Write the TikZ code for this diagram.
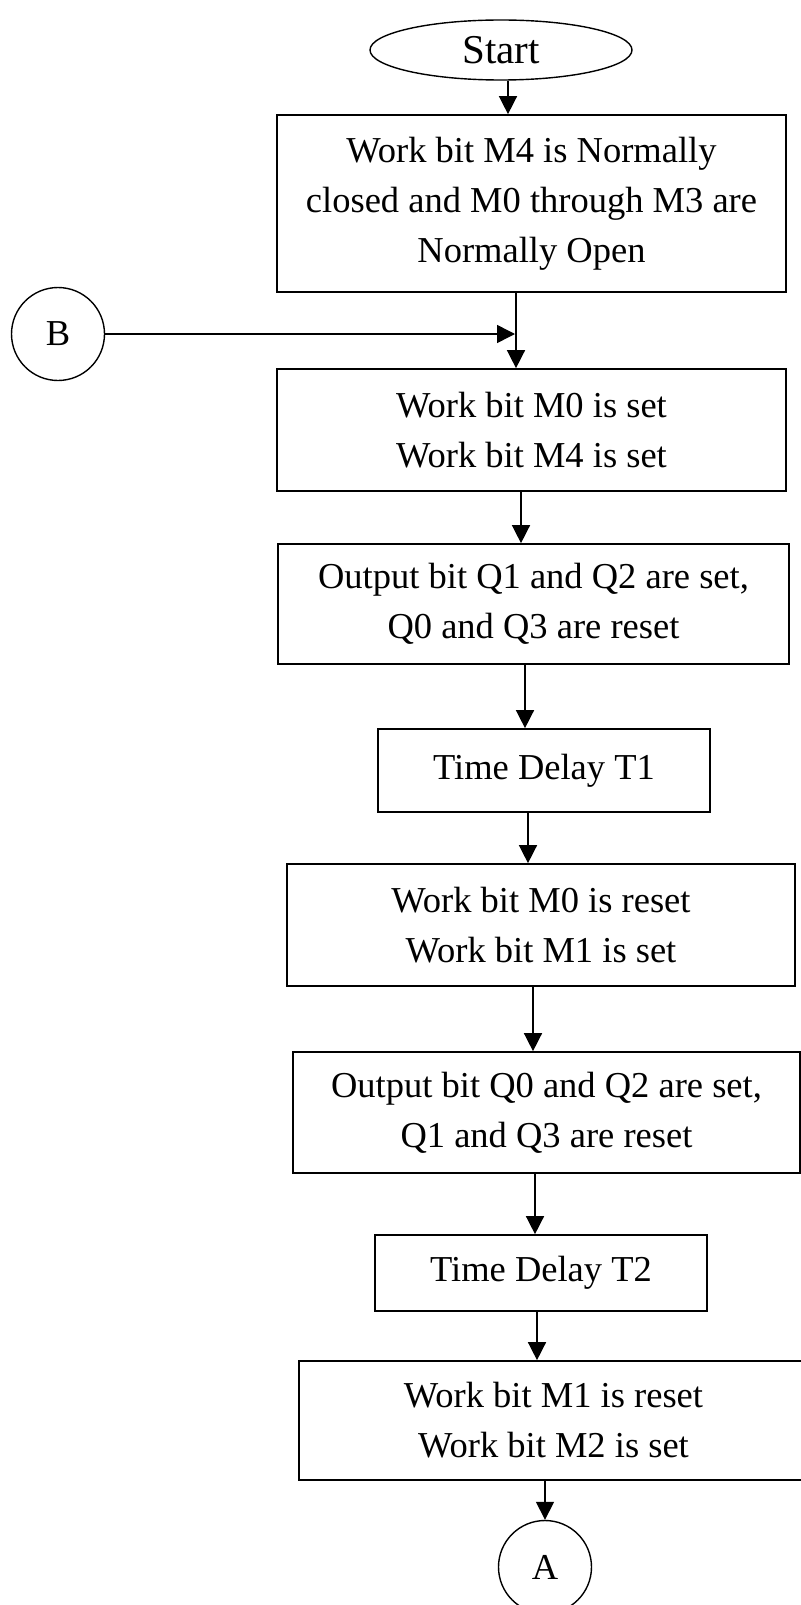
\documentclass[tikz,border=0pt]{standalone}
\usepackage{fontspec}
\setmainfont{Liberation Serif}
\usetikzlibrary{arrows.meta,shapes.geometric}
\begin{document}
\begin{tikzpicture}[x=1pt,y=-1pt,
  every node/.style={font=\fontsize{36.5}{50}\selectfont, align=center, inner sep=0pt},
  procbox/.style={draw, line width=1.7pt, rectangle},
  wide/.style={procbox, minimum width=509pt, minimum height=121pt},
  narrow/.style={procbox, minimum width=332pt, minimum height=82pt},
  conn/.style={draw, circle, line width=1.4pt, minimum size=93pt},
  arr/.style={line width=1.5pt, -{Triangle[length=18pt,width=18pt]}}]
\useasboundingbox (0,0) rectangle (800,1605);
\fill[white] (0,0) rectangle (800,1605);

\node[draw, ellipse, line width=1.4pt, minimum width=262pt, minimum height=60pt, font=\fontsize{41}{50}\selectfont] (start) at (501,50) {Start};
\node[procbox, minimum width=509pt, minimum height=177pt] (b1) at (531.5,203.5) {Work bit M4 is Normally\\closed and M0 through M3 are\\Normally Open};
\node[conn] (B) at (58,334) {B};
\node[wide, minimum height=122pt] (b2) at (531.5,430) {Work bit M0 is set\\Work bit M4 is set};
\node[wide, minimum height=120pt, minimum width=511pt] (b3) at (533.5,604) {Output bit Q1 and Q2 are set,\\Q0 and Q3 are reset};
\node[narrow, minimum height=83pt] (b4) at (544,770.5) {Time Delay T1};
\node[wide, minimum width=508pt, minimum height=122pt] (b5) at (541,925) {Work bit M0 is reset\\Work bit M1 is set};
\node[wide, minimum width=507pt] (b6) at (546.5,1112.5) {Output bit Q0 and Q2 are set,\\Q1 and Q3 are reset};
\node[narrow, minimum height=76pt] (b7) at (541,1273) {Time Delay T2};
\node[wide, minimum height=119pt] (b8) at (553.5,1420.5) {Work bit M1 is reset\\Work bit M2 is set};
\node[conn] (A) at (545,1567) {A};

\coordinate (join) at (515,334);

\draw[arr] ([xshift=7pt]start.south) -- ([xshift=-23.5pt]b1.north);
\draw[arr] ([xshift=-15.5pt]b1.south) -- ([xshift=-15.5pt]b2.north);
\draw[arr] (B.east) -- (join);
\draw[arr] ([xshift=-10.5pt]b2.south) -- ([xshift=-12.5pt]b3.north);
\draw[arr] ([xshift=-8.5pt]b3.south) -- ([xshift=-19pt]b4.north);
\draw[arr] ([xshift=-16pt]b4.south) -- ([xshift=-13pt]b5.north);
\draw[arr] ([xshift=-8pt]b5.south) -- ([xshift=-13.5pt]b6.north);
\draw[arr] ([xshift=-11.5pt]b6.south) -- ([xshift=-6pt]b7.north);
\draw[arr] ([xshift=-4pt]b7.south) -- ([xshift=-16.5pt]b8.north);
\draw[arr] ([xshift=-8.5pt]b8.south) -- (A.north);
\end{tikzpicture}
\end{document}
